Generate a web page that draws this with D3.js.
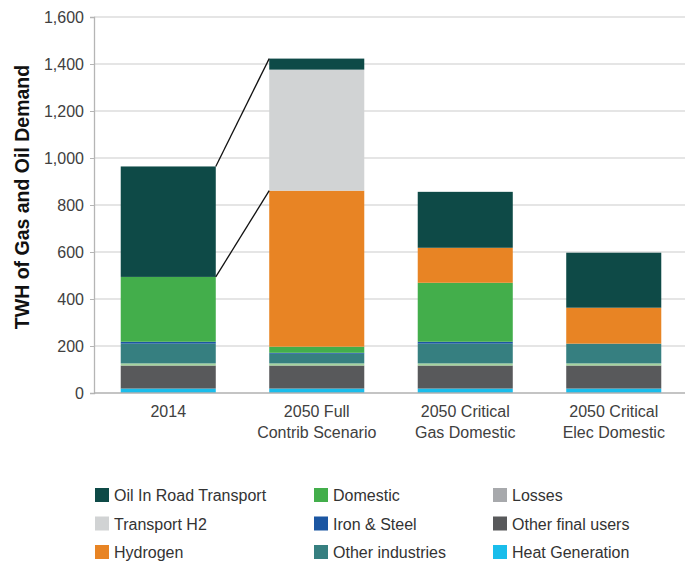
<!DOCTYPE html>
<html>
<head>
<meta charset="utf-8">
<script src="https://cdn.jsdelivr.net/npm/d3@7/dist/d3.min.js"></script>
<style>
  body { margin: 0; background: #fff; }
  svg text { font-family: "Liberation Sans", Arial, sans-serif; }
</style>
</head>
<body>
<div id="content"></div>
<script>
// categories (x axis, two lines each)
var categories = ["2014", "2050 Full\nContrib Scenario", "2050 Critical\nGas Domestic", "2050 Critical\nElec Domestic"];

// series, bottom of stack first
var seriesNames = ["Heat Generation", "Other final users", "Losses", "Other industries", "Iron & Steel", "Domestic", "Hydrogen", "Transport H2", "Oil In Road Transport"];
var seriesColors = ["#1abdeb", "#58595b", "#a3d39c", "#367f80", "#1b56a2", "#43ae4b", "#e88424", "#d1d3d4", "#0e4a47"];
var legendColors = ["#1abdeb", "#58595b", "#a7a9ac", "#367f80", "#1b56a2", "#43ae4b", "#e88424", "#d1d3d4", "#0e4a47"];

var heatGeneration   = [19, 19, 19, 19];
var otherFinalUsers  = [98, 98, 98, 98];
var losses           = [9, 9, 9, 9];
var otherIndustries  = [84, 41, 84, 84];
var ironSteel        = [8, 4, 8, 0];
var domestic         = [276, 26, 251, 0];
var hydrogen         = [0, 664, 149, 153];
var transportH2      = [0, 515, 0, 0];
var oilRoadTransport = [470, 47, 238, 234];

var yTicks = [0, 200, 400, 600, 800, 1000, 1200, 1400, 1600];

// legend is laid out in rows of three
var legendOrder = ["Oil In Road Transport", "Domestic", "Losses",
                   "Transport H2", "Iron & Steel", "Other final users",
                   "Hydrogen", "Other industries", "Heat Generation"];

(() => {
    var seriesValues = [heatGeneration, otherFinalUsers, losses, otherIndustries, ironSteel, domestic, hydrogen, transportH2, oilRoadTransport];

    var table = categories.map(function (c, i) {
        var row = { cat: c };
        seriesNames.forEach(function (s, j) { row[s] = seriesValues[j][i]; });
        return row;
    });

    var stack = d3.stack().keys(seriesNames)(table);

    var margin = { top: 17, left: 94, right: -3, bottom: 169 };
    var W = 685, H = 562;
    var plotH = H - margin.top - margin.bottom;

    var x = d3.scaleBand().domain(categories)
        .range([margin.left, W - margin.right])
        .paddingInner(0.36).paddingOuter(0.18);
    var y = d3.scaleLinear().domain([0, 1600]).range([margin.top + plotH, margin.top]);

    var svg = d3.select("#content").append("svg")
        .attr("width", W).attr("height", H);

    // gridlines
    svg.append("g").selectAll("line")
        .data(yTicks.slice(1))
        .enter().append("line")
        .attr("x1", margin.left).attr("x2", W)
        .attr("y1", function (d) { return y(d); })
        .attr("y2", function (d) { return y(d); })
        .attr("stroke", "#dcdcdc").attr("stroke-width", 1.3);

    // y axis
    var yAxis = d3.axisLeft(y).tickValues(yTicks).tickFormat(d3.format(",")).tickSize(4).tickPadding(6);
    var yg = svg.append("g").attr("transform", "translate(" + margin.left + ",0)").call(yAxis);
    yg.select(".domain").attr("stroke", "#b5b5b5").attr("stroke-width", 1.3);
    yg.selectAll(".tick line").attr("stroke", "#b5b5b5");
    yg.selectAll(".tick text").attr("fill", "#404040").style("font-size", "16px");

    // bars
    svg.append("g").selectAll("g")
        .data(stack)
        .enter().append("g")
        .attr("fill", function (d, i) { return seriesColors[i]; })
        .selectAll("rect")
        .data(function (d) { return d; })
        .enter().append("rect")
        .attr("x", function (d) { return x(d.data.cat); })
        .attr("width", x.bandwidth())
        .attr("y", function (d) { return y(d[1]); })
        .attr("height", function (d) { return y(d[0]) - y(d[1]); });

    // x axis
    svg.append("line")
        .attr("x1", margin.left).attr("x2", W)
        .attr("y1", y(0)).attr("y2", y(0))
        .attr("stroke", "#b0b0b0").attr("stroke-width", 1.5);

    var xl = svg.append("g").selectAll("text")
        .data(categories)
        .enter().append("text")
        .attr("x", function (d) { return x(d) + x.bandwidth() / 2; })
        .attr("y", 417)
        .attr("text-anchor", "middle")
        .attr("fill", "#404040")
        .style("font-size", "16px");
    xl.each(function (d) {
        var t = d3.select(this);
        d.split("\n").forEach(function (line, i) {
            t.append("tspan").attr("x", t.attr("x")).attr("dy", i === 0 ? 0 : 21).text(line);
        });
    });

    // connector lines between first two bars
    var first = stack.map(function (s) { return s[0]; });
    var second = stack.map(function (s) { return s[1]; });
    var iDom = seriesNames.indexOf("Domestic"), iHyd = seriesNames.indexOf("Hydrogen");
    var x1 = x(categories[0]) + x.bandwidth(), x2 = x(categories[1]);
    var links = [
        [first[first.length - 1][1], second[second.length - 1][1]],
        [first[iDom][1], second[iHyd][1]]
    ];
    svg.append("g").selectAll("line")
        .data(links)
        .enter().append("line")
        .attr("x1", x1).attr("x2", x2)
        .attr("y1", function (d) { return y(d[0]); })
        .attr("y2", function (d) { return y(d[1]); })
        .attr("stroke", "#111").attr("stroke-width", 1.3);

    // y title
    svg.append("text")
        .attr("transform", "translate(29,197) rotate(-90)")
        .attr("text-anchor", "middle")
        .attr("fill", "#111")
        .style("font-size", "19.5px").style("font-weight", "bold")
        .text("TWH of Gas and Oil Demand");

    // legend
    var colX = [95, 314, 493];
    var rowY = [495, 523.5, 552];
    var leg = svg.append("g").selectAll("g")
        .data(legendOrder)
        .enter().append("g")
        .attr("transform", function (d, i) {
            return "translate(" + colX[i % 3] + "," + rowY[Math.floor(i / 3)] + ")";
        });
    leg.append("rect")
        .attr("x", 0).attr("y", -7).attr("width", 14).attr("height", 14)
        .attr("fill", function (d) { return legendColors[seriesNames.indexOf(d)]; });
    leg.append("text")
        .attr("x", 19).attr("y", 6)
        .attr("fill", "#333")
        .style("font-size", "16px")
        .text(function (d) { return d; });
})();
</script>
</body>
</html>
